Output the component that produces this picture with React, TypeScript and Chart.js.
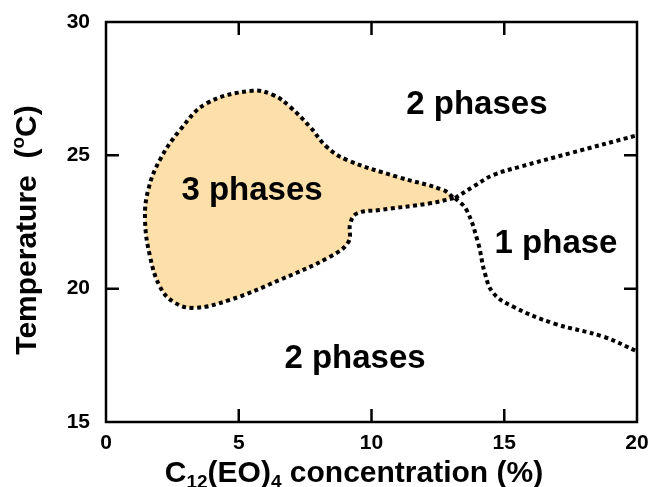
import React, { useEffect, useRef } from 'react';
import { Chart, registerables } from 'chart.js';
Chart.register(...registerables);

const FONT = '"Liberation Sans", Arial, Helvetica, sans-serif';

const xTickValues = [0, 5, 10, 15, 20];
const yTickValues = [15, 20, 25, 30];
const xInnerTicks = [5, 10, 15];
const yInnerTicks = [20, 25];

// 3-phase region boundary (closed, starting and ending at the junction)
const threePhaseX = [13.1, 12.2, 10.3, 9.45, 9.2, 9.13, 8.44, 6.55, 4.67, 3.29, 2.53, 2.03, 1.66, 1.47, 1.59, 2.03, 2.79, 3.79, 5.5, 6.3, 6.93, 7.68, 8.31, 9.07, 10.95, 12.7, 13.1];
const threePhaseY = [23.4, 23.2, 22.95, 22.82, 22.45, 21.75, 21.2, 20.33, 19.58, 19.28, 19.51, 20.08, 21.2, 22.58, 23.7, 24.83, 25.95, 26.95, 27.42, 27.26, 26.82, 26.07, 25.32, 24.83, 24.2, 23.7, 23.4];

// upper boundary of the 1-phase region
const upperLineX = [13.15, 13.84, 14.58, 15.59, 17.48, 20];
const upperLineY = [23.4, 23.83, 24.26, 24.57, 25.08, 25.75];

// lower boundary of the 1-phase region
const lowerLineX = [13.15, 13.58, 14.02, 14.27, 14.59, 15.34, 16.85, 18.73, 20];
const lowerLineY = [23.4, 22.95, 21.7, 20.58, 19.83, 19.32, 18.7, 18.2, 17.65];

const regionLabels = ['2 phases', '3 phases', '1 phase', '2 phases'];
const regionLabelX = [13.97, 5.5, 16.95, 9.38];
const regionLabelY = [27.0, 23.78, 21.79, 17.48];

const toPoints = (xs: number[], ys: number[]) => xs.map((x, i) => ({ x, y: ys[i] }));

const regionFillPlugin = {
  id: 'regionFill',
  beforeDatasetDraw(chart: any, args: any) {
    const ds: any = chart.data.datasets[args.index];
    if (!ds.regionFill) return;
    const meta = args.meta;
    const line = meta.dataset;
    const ctx = chart.ctx;
    if (line.updateControlPoints) line.updateControlPoints(chart.chartArea, meta.indexAxis);
    const pts = line.points || meta.data;
    if (!pts || !pts.length) return;
    ctx.save();
    ctx.beginPath();
    ctx.moveTo(pts[0].x, pts[0].y);
    for (let i = 1; i < pts.length; i++) {
      const p = pts[i - 1];
      const q = pts[i];
      if (p.cp2x !== undefined && q.cp1x !== undefined) {
        ctx.bezierCurveTo(p.cp2x, p.cp2y, q.cp1x, q.cp1y, q.x, q.y);
      } else {
        ctx.lineTo(q.x, q.y);
      }
    }
    ctx.closePath();
    ctx.fillStyle = ds.regionFill;
    ctx.fill();
    ctx.restore();
  },
};

const framePlugin = {
  id: 'frame',
  afterDatasetsDraw(chart: any) {
    const ctx = chart.ctx;
    const { left, right, top, bottom } = chart.chartArea;
    const xs = chart.scales.x;
    const ys = chart.scales.y;
    const tick = 13;
    ctx.save();
    ctx.strokeStyle = '#000';
    ctx.lineWidth = 2.5;
    ctx.setLineDash([]);
    ctx.beginPath();
    ctx.rect(left, top, right - left, bottom - top);
    ctx.stroke();
    ctx.beginPath();
    xInnerTicks.forEach((v) => {
      const px = xs.getPixelForValue(v);
      ctx.moveTo(px, bottom);
      ctx.lineTo(px, bottom - tick);
      ctx.moveTo(px, top);
      ctx.lineTo(px, top + tick);
    });
    yInnerTicks.forEach((v) => {
      const py = ys.getPixelForValue(v);
      ctx.moveTo(left, py);
      ctx.lineTo(left + tick, py);
      ctx.moveTo(right, py);
      ctx.lineTo(right - tick, py);
    });
    ctx.stroke();

    // region labels
    ctx.fillStyle = '#000';
    ctx.font = `bold 33px ${FONT}`;
    ctx.textAlign = 'center';
    ctx.textBaseline = 'alphabetic';
    regionLabels.forEach((t, i) => {
      const px = xs.getPixelForValue(regionLabelX[i]);
      const py = ys.getPixelForValue(regionLabelY[i]);
      ctx.fillText(t, px, py + 12);
    });
    ctx.restore();
  },
};

type Part = { t: string; size: number; dy: number };

const drawParts = (ctx: CanvasRenderingContext2D, parts: Part[], cx: number, baseY: number) => {
  let total = 0;
  parts.forEach((p) => {
    ctx.font = `bold ${p.size}px ${FONT}`;
    total += ctx.measureText(p.t).width;
  });
  let x = cx - total / 2;
  parts.forEach((p) => {
    ctx.font = `bold ${p.size}px ${FONT}`;
    ctx.fillText(p.t, x, baseY + p.dy);
    x += ctx.measureText(p.t).width;
  });
};

const titlesPlugin = {
  id: 'titles',
  afterDraw(chart: any) {
    const ctx = chart.ctx;
    ctx.save();
    ctx.fillStyle = '#000';
    ctx.textAlign = 'left';
    ctx.textBaseline = 'alphabetic';
    drawParts(
      ctx,
      [
        { t: 'C', size: 30, dy: 0 },
        { t: '12', size: 19, dy: 6 },
        { t: '(EO)', size: 30, dy: 0 },
        { t: '4', size: 19, dy: 6 },
        { t: ' concentration (%)', size: 30, dy: 0 },
      ],
      354,
      482
    );
    ctx.translate(36, 230);
    ctx.rotate(-Math.PI / 2);
    drawParts(
      ctx,
      [
        { t: 'Temperature  (', size: 30, dy: 0 },
        { t: 'o', size: 19, dy: -12 },
        { t: 'C)', size: 30, dy: 0 },
      ],
      0,
      0
    );
    ctx.restore();
  },
};

export default function App() {
  const ref = useRef<HTMLCanvasElement | null>(null);
  useEffect(() => {
    if (!ref.current) return;
    const lineStyle = {
      showLine: true,
      pointRadius: 0,
      borderColor: '#000',
      borderWidth: 4,
      borderDash: [4, 3.5],
      borderCapStyle: 'butt',
      tension: 0.4,
      fill: false,
    };
    const chart = new Chart(ref.current, {
      type: 'scatter',
      data: {
        datasets: [
          { ...lineStyle, data: toPoints(threePhaseX, threePhaseY), regionFill: '#FDE0A9' } as any,
          { ...lineStyle, data: toPoints(upperLineX, upperLineY) } as any,
          { ...lineStyle, data: toPoints(lowerLineX, lowerLineY) } as any,
        ],
      },
      options: {
        animation: false,
        responsive: true,
        maintainAspectRatio: false,
        layout: { padding: { left: 0, right: 13, top: 22, bottom: 0 } },
        plugins: { legend: { display: false }, tooltip: { enabled: false } },
        scales: {
          x: {
            type: 'linear',
            min: 0,
            max: 20,
            afterBuildTicks: (s: any) => {
              s.ticks = xTickValues.map((v) => ({ value: v }));
            },
            ticks: { color: '#000', font: { family: FONT, size: 21, weight: 'bold' }, padding: 9, maxRotation: 0 },
            grid: { display: false, drawTicks: false },
            border: { display: false },
            afterFit: (s: any) => {
              s.height = 65;
              s.paddingLeft = 0;
              s.paddingRight = 0;
              s.paddingTop = 0;
              s.paddingBottom = 0;
            },
          },
          y: {
            type: 'linear',
            min: 15,
            max: 30,
            afterBuildTicks: (s: any) => {
              s.ticks = yTickValues.map((v) => ({ value: v }));
            },
            ticks: { color: '#000', font: { family: FONT, size: 21, weight: 'bold' }, padding: 16 },
            grid: { display: false, drawTicks: false },
            border: { display: false },
            afterFit: (s: any) => {
              s.width = 106;
              s.paddingLeft = 0;
              s.paddingRight = 0;
              s.paddingTop = 0;
              s.paddingBottom = 0;
            },
          },
        },
      } as any,
      plugins: [regionFillPlugin, framePlugin, titlesPlugin],
    });
    return () => chart.destroy();
  }, []);
  return (
    <div style={{ position: 'fixed', left: 0, top: 0, width: 650, height: 487, background: '#fff' }}>
      <canvas ref={ref} />
    </div>
  );
}
